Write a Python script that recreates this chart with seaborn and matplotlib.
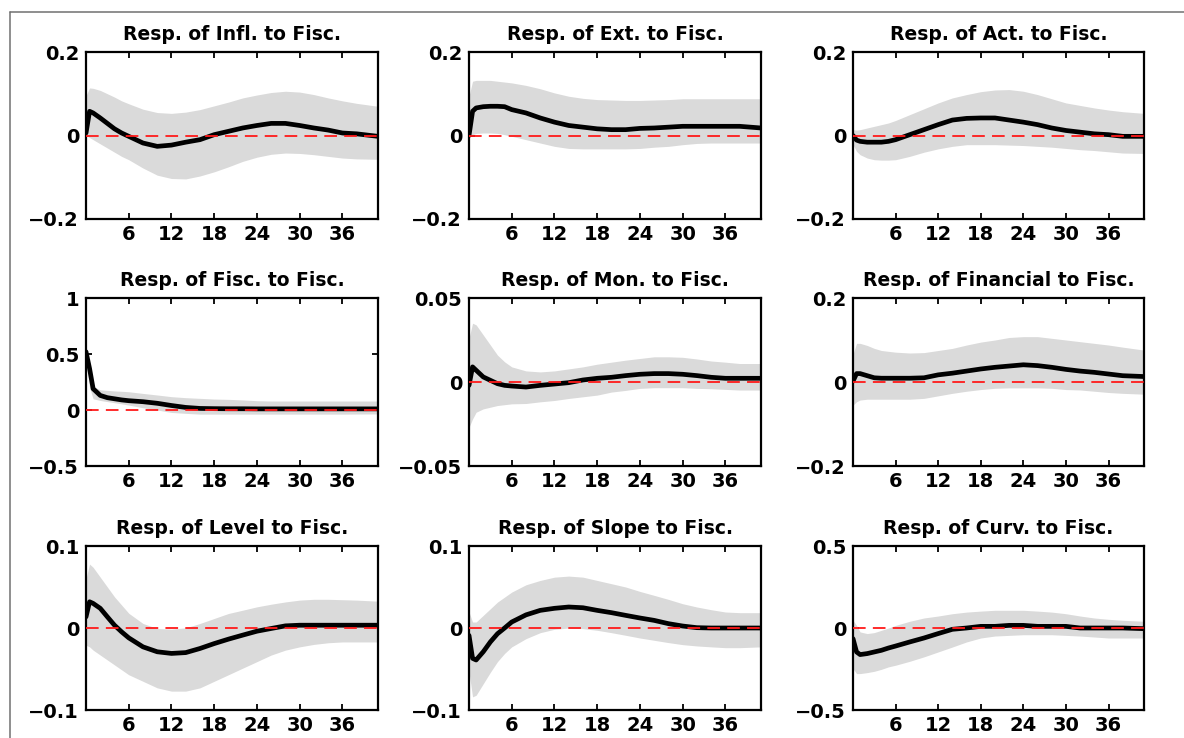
import numpy as np
import seaborn as sns
import matplotlib
matplotlib.use("Agg")
import matplotlib.pyplot as plt
from matplotlib.lines import Line2D

# horizons (shared by every panel)
horizon = [0, 0.5, 1, 2, 3, 4, 5, 6, 8, 10, 12, 14, 16, 18, 20, 22, 24, 26, 28, 30, 32, 34, 36, 38, 41]

titles = ["Resp. of Infl. to Fisc.", "Resp. of Ext. to Fisc.", "Resp. of Act. to Fisc.",
          "Resp. of Fisc. to Fisc.", "Resp. of Mon. to Fisc.", "Resp. of Financial to Fisc.",
          "Resp. of Level to Fisc.", "Resp. of Slope to Fisc.", "Resp. of Curv. to Fisc."]

infl_mid = [0.006, 0.058, 0.054, 0.042, 0.029, 0.016, 0.006, -0.002, -0.018, -0.026, -0.023, -0.016, -0.010, 0.002, 0.010, 0.018, 0.024, 0.029, 0.029, 0.024, 0.018, 0.013, 0.006, 0.004, -0.002]
infl_hi = [0.095, 0.114, 0.113, 0.108, 0.100, 0.092, 0.083, 0.076, 0.063, 0.055, 0.053, 0.056, 0.062, 0.071, 0.080, 0.090, 0.097, 0.103, 0.106, 0.104, 0.098, 0.090, 0.083, 0.077, 0.070]
infl_lo = [0.000, -0.005, -0.010, -0.020, -0.030, -0.040, -0.050, -0.058, -0.078, -0.095, -0.103, -0.104, -0.097, -0.087, -0.075, -0.062, -0.052, -0.045, -0.042, -0.043, -0.046, -0.050, -0.054, -0.056, -0.057]

ext_mid = [0.000, 0.058, 0.066, 0.069, 0.070, 0.070, 0.069, 0.062, 0.054, 0.042, 0.032, 0.024, 0.020, 0.016, 0.014, 0.014, 0.017, 0.018, 0.020, 0.022, 0.022, 0.022, 0.022, 0.022, 0.018]
ext_hi = [0.094, 0.130, 0.132, 0.132, 0.132, 0.130, 0.128, 0.126, 0.120, 0.112, 0.102, 0.094, 0.089, 0.086, 0.085, 0.084, 0.084, 0.085, 0.086, 0.088, 0.088, 0.088, 0.088, 0.088, 0.088]
ext_lo = [0.000, 0.002, 0.005, 0.006, 0.006, 0.005, 0.002, -0.002, -0.010, -0.018, -0.026, -0.031, -0.032, -0.032, -0.032, -0.032, -0.031, -0.028, -0.026, -0.022, -0.019, -0.018, -0.018, -0.018, -0.018]

act_mid = [0.000, -0.011, -0.014, -0.016, -0.016, -0.016, -0.014, -0.010, 0.002, 0.014, 0.026, 0.037, 0.041, 0.042, 0.042, 0.037, 0.032, 0.026, 0.018, 0.012, 0.008, 0.004, 0.002, -0.002, -0.002]
act_hi = [0.014, 0.013, 0.014, 0.018, 0.022, 0.026, 0.030, 0.036, 0.050, 0.064, 0.078, 0.090, 0.098, 0.105, 0.109, 0.110, 0.106, 0.098, 0.088, 0.078, 0.072, 0.066, 0.061, 0.057, 0.053]
act_lo = [-0.022, -0.038, -0.046, -0.054, -0.058, -0.059, -0.059, -0.058, -0.050, -0.040, -0.032, -0.026, -0.022, -0.022, -0.022, -0.023, -0.024, -0.026, -0.028, -0.031, -0.034, -0.036, -0.039, -0.042, -0.043]

fisc_mid = [0.52, 0.37, 0.19, 0.13, 0.11, 0.10, 0.09, 0.083, 0.074, 0.060, 0.040, 0.023, 0.014, 0.012, 0.011, 0.011, 0.010, 0.010, 0.010, 0.010, 0.010, 0.010, 0.010, 0.010, 0.010]
fisc_hi = [0.55, 0.40, 0.21, 0.18, 0.175, 0.17, 0.167, 0.163, 0.148, 0.134, 0.119, 0.110, 0.104, 0.098, 0.095, 0.090, 0.083, 0.080, 0.080, 0.080, 0.080, 0.080, 0.080, 0.080, 0.080]
fisc_lo = [0.45, 0.20, 0.10, 0.085, 0.075, 0.065, 0.055, 0.044, 0.020, 0.000, -0.022, -0.030, -0.037, -0.037, -0.037, -0.037, -0.037, -0.037, -0.037, -0.037, -0.037, -0.037, -0.037, -0.036, -0.035]

mon_mid = [-0.002, 0.009, 0.007, 0.003, 0.001, -0.001, -0.002, -0.0024, -0.003, -0.002, -0.0012, -0.0004, 0.0012, 0.0022, 0.0028, 0.0038, 0.0046, 0.005, 0.005, 0.0046, 0.0038, 0.0028, 0.0022, 0.0022, 0.0022]
mon_hi = [0.026, 0.035, 0.034, 0.028, 0.022, 0.016, 0.012, 0.009, 0.0066, 0.006, 0.0066, 0.0078, 0.009, 0.0106, 0.0118, 0.013, 0.014, 0.015, 0.015, 0.0147, 0.0137, 0.0125, 0.0118, 0.011, 0.011]
mon_lo = [-0.027, -0.022, -0.018, -0.016, -0.015, -0.014, -0.0135, -0.013, -0.0128, -0.0118, -0.011, -0.0098, -0.0088, -0.0078, -0.006, -0.005, -0.0038, -0.0034, -0.0034, -0.0034, -0.0038, -0.004, -0.0044, -0.0048, -0.0048]

fin_mid = [0.002, 0.020, 0.020, 0.015, 0.010, 0.009, 0.009, 0.009, 0.009, 0.010, 0.017, 0.021, 0.026, 0.031, 0.035, 0.038, 0.041, 0.039, 0.035, 0.030, 0.026, 0.023, 0.019, 0.015, 0.013]
fin_hi = [0.066, 0.092, 0.092, 0.087, 0.080, 0.075, 0.073, 0.071, 0.069, 0.070, 0.075, 0.080, 0.088, 0.095, 0.100, 0.106, 0.108, 0.108, 0.104, 0.100, 0.096, 0.092, 0.088, 0.083, 0.076]
fin_lo = [-0.055, -0.047, -0.043, -0.041, -0.041, -0.041, -0.041, -0.041, -0.041, -0.039, -0.033, -0.027, -0.022, -0.018, -0.015, -0.014, -0.014, -0.014, -0.015, -0.018, -0.019, -0.022, -0.025, -0.027, -0.029]

level_mid = [0.0136, 0.032, 0.030, 0.024, 0.0136, 0.0034, -0.0047, -0.012, -0.023, -0.029, -0.031, -0.030, -0.025, -0.019, -0.0136, -0.0087, -0.0039, -0.0006, 0.0026, 0.0034, 0.0034, 0.0034, 0.0034, 0.0034, 0.0034]
level_hi = [0.060, 0.078, 0.074, 0.062, 0.050, 0.038, 0.028, 0.018, 0.0055, -0.0006, -0.0014, 0.0002, 0.0055, 0.0116, 0.0177, 0.0217, 0.0258, 0.029, 0.0318, 0.034, 0.035, 0.035, 0.0345, 0.034, 0.0327]
level_lo = [-0.021, -0.023, -0.027, -0.033, -0.039, -0.045, -0.051, -0.057, -0.065, -0.073, -0.077, -0.077, -0.073, -0.065, -0.057, -0.049, -0.041, -0.033, -0.027, -0.023, -0.020, -0.018, -0.017, -0.017, -0.017]

slope_mid = [-0.009, -0.037, -0.039, -0.029, -0.017, -0.007, 0.000, 0.0073, 0.016, 0.0215, 0.024, 0.0256, 0.0247, 0.0215, 0.0187, 0.0154, 0.0122, 0.0093, 0.0053, 0.0024, 0.0004, 0.000, 0.000, 0.000, 0.000]
slope_hi = [0.0195, 0.0073, 0.0073, 0.0154, 0.0235, 0.0316, 0.0377, 0.0438, 0.0527, 0.058, 0.062, 0.0633, 0.062, 0.058, 0.054, 0.050, 0.0446, 0.0398, 0.0349, 0.0296, 0.0256, 0.0223, 0.0195, 0.0187, 0.0187]
slope_lo = [-0.0536, -0.084, -0.082, -0.068, -0.054, -0.041, -0.031, -0.023, -0.013, -0.0057, -0.0016, 0.000, -0.0008, -0.0028, -0.0057, -0.0089, -0.0122, -0.015, -0.0178, -0.0203, -0.0219, -0.023, -0.024, -0.024, -0.023]

curv_mid = [-0.065, -0.146, -0.162, -0.156, -0.146, -0.136, -0.122, -0.110, -0.085, -0.061, -0.034, -0.008, 0.000, 0.010, 0.010, 0.016, 0.016, 0.010, 0.010, 0.010, 0.000, 0.000, 0.000, 0.000, -0.004]
curv_hi = [0.047, 0.016, -0.024, -0.034, -0.028, -0.014, 0.000, 0.016, 0.041, 0.061, 0.073, 0.087, 0.097, 0.103, 0.108, 0.108, 0.108, 0.103, 0.097, 0.087, 0.073, 0.061, 0.053, 0.047, 0.041]
curv_lo = [-0.247, -0.278, -0.278, -0.272, -0.264, -0.252, -0.237, -0.227, -0.203, -0.176, -0.146, -0.116, -0.085, -0.061, -0.049, -0.045, -0.041, -0.041, -0.041, -0.045, -0.049, -0.055, -0.061, -0.061, -0.061]

# y ticks / labels for each panel
yticks = [[-0.2, 0, 0.2], [-0.2, 0, 0.2], [-0.2, 0, 0.2],
          [-0.5, 0, 0.5, 1], [-0.05, 0, 0.05], [-0.2, 0, 0.2],
          [-0.1, 0, 0.1], [-0.1, 0, 0.1], [-0.5, 0, 0.5]]
yticklabels = [["\u22120.2", "0", "0.2"], ["\u22120.2", "0", "0.2"], ["\u22120.2", "0", "0.2"],
               ["\u22120.5", "0", "0.5", "1"], ["\u22120.05", "0", "0.05"], ["\u22120.2", "0", "0.2"],
               ["\u22120.1", "0", "0.1"], ["\u22120.1", "0", "0.1"], ["\u22120.5", "0", "0.5"]]
xticks = [6, 12, 18, 24, 30, 36]

mids = [infl_mid, ext_mid, act_mid, fisc_mid, mon_mid, fin_mid, level_mid, slope_mid, curv_mid]
his = [infl_hi, ext_hi, act_hi, fisc_hi, mon_hi, fin_hi, level_hi, slope_hi, curv_hi]
los = [infl_lo, ext_lo, act_lo, fisc_lo, mon_lo, fin_lo, level_lo, slope_lo, curv_lo]

sns.set_theme(style="white", rc={
    "xtick.direction": "in", "ytick.direction": "in",
    "xtick.top": True, "ytick.right": True,
    "xtick.bottom": True, "ytick.left": True,
    "text.color": "black", "xtick.color": "black", "ytick.color": "black",
})
plt.rcParams["font.family"] = ["DejaVu Sans"]
plt.rcParams["font.weight"] = "bold"

W, H = 1184, 738
fig = plt.figure(figsize=(W / 100, H / 100), dpi=100)

col_left = [86, 469, 853]
col_w = [292, 292, 291]
row_top = [52, 298, 546]
row_h = [167, 168, 164]

for i in range(9):
    r, c = divmod(i, 3)
    ax = fig.add_axes([col_left[c] / W, 1 - (row_top[r] + row_h[r]) / H, col_w[c] / W, row_h[r] / H])
    ax.fill_between(horizon, los[i], his[i], color="#dadada", lw=0, zorder=1)
    sns.lineplot(x=horizon, y=mids[i], ax=ax, color="black", lw=3.4, zorder=2)
    ax.axhline(0, color="#ff1a1a", lw=1.3, ls=(0, (7, 4)), zorder=3)
    ax.set_xlim(0, 41)
    ax.set_ylim(yticks[i][0], yticks[i][-1])
    ax.set_xticks(xticks)
    ax.set_xticklabels([str(t) for t in xticks], fontsize=14, fontweight="bold")
    ax.set_yticks(yticks[i])
    ax.set_yticklabels(yticklabels[i], fontsize=14, fontweight="bold")
    ax.tick_params(length=4, width=1.3, colors="black", pad=5)
    ax.tick_params(axis="x", pad=4)
    for s in ax.spines.values():
        s.set_color("black")
        s.set_linewidth(1.6)
    ax.set_title(titles[i], fontsize=13.5, fontweight="bold", color="black", pad=9)
    ax.set_xlabel("")
    ax.set_ylabel("")

# thin grey frame at the top and on the left
fig.add_artist(Line2D([10 / W, 1], [1 - 12 / H, 1 - 12 / H], transform=fig.transFigure, color="#707070", lw=1.1))
fig.add_artist(Line2D([10 / W, 10 / W], [0, 1 - 12 / H], transform=fig.transFigure, color="#707070", lw=1.1))

fig.savefig("out.png", dpi=100)
